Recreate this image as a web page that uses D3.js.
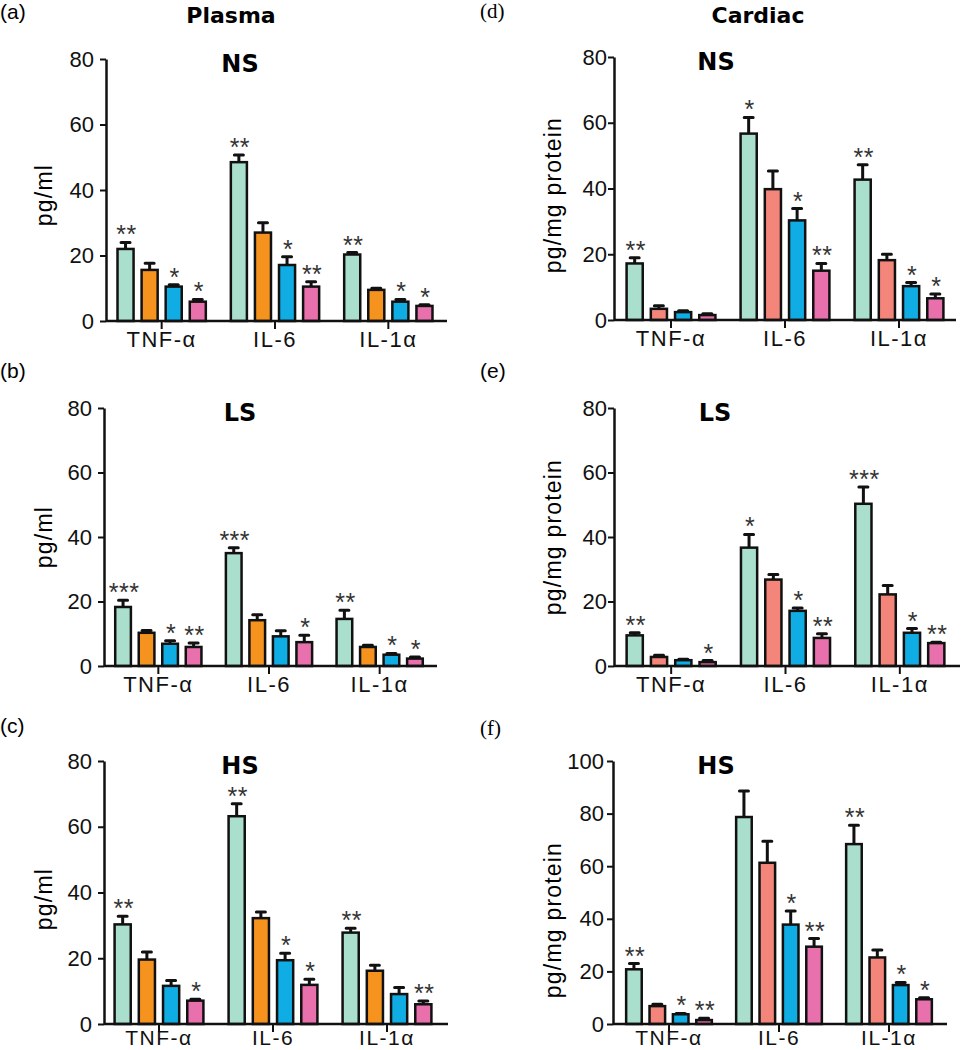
<!DOCTYPE html>
<html>
<head>
<meta charset="utf-8">
<script src="https://cdn.jsdelivr.net/npm/d3@7"></script>
<style>
  body { margin: 0; background: #fff; }
  svg { display: block; }
</style>
</head>
<body>
<div id="chart"></div>
<script>
// cytokine groups on the x axis
const categories = ['TNF-α', 'IL-6', 'IL-1α']

// (a) plasma NS
const plasmaNS = [[22, 15.6, 10.5, 5.9], [48.5, 27, 17.1, 10.5], [20.3, 9.5, 5.9, 4.6]]
const plasmaNSErr = [[2, 2, 0.6, 0.7], [2.2, 3, 2.5, 1.5], [0.6, 0.5, 0.7, 0.4]]
const plasmaNSSig = [['**', '', '*', '*'], ['**', '', '*', '**'], ['**', '', '*', '*']]

// (b) plasma LS
const plasmaLS = [[18.3, 10.3, 6.9, 5.9], [35, 14.2, 9.2, 7.4], [14.6, 5.9, 3.5, 2.3]]
const plasmaLSErr = [[2.1, 0.7, 0.9, 1.2], [1.7, 1.7, 1.7, 2.1], [2.7, 0.5, 0.4, 0.5]]
const plasmaLSSig = [['***', '', '*', '**'], ['***', '', '', '*'], ['**', '', '*', '*']]

// (c) plasma HS
const plasmaHS = [[30.3, 19.6, 11.6, 7.1], [63.2, 32.2, 19.4, 11.9], [27.8, 16.2, 9.1, 6]]
const plasmaHSErr = [[2.5, 2.3, 1.6, 0.4], [3.8, 1.9, 2.1, 1.7], [1.3, 1.7, 2, 1]]
const plasmaHSSig = [['**', '', '', '*'], ['**', '', '*', '*'], ['**', '', '', '**']]

// (d) cardiac NS
const cardiacNS = [[17.2, 3.4, 2.4, 1.5], [56.7, 39.8, 30.3, 15], [42.7, 18.2, 10.3, 6.6]]
const cardiacNSErr = [[1.7, 0.9, 0.4, 0.4], [4.9, 5.5, 3.6, 2.2], [4.5, 1.8, 1.1, 1.3]]
const cardiacNSSig = [['**', '', '', ''], ['*', '', '*', '**'], ['**', '', '*', '*']]

// (e) cardiac LS
const cardiacLS = [[9.5, 2.8, 1.8, 1.2], [36.7, 26.8, 17.1, 8.7], [50.3, 22.2, 10.3, 7.1]]
const cardiacLSErr = [[0.8, 0.5, 0.3, 0.5], [4.1, 1.6, 0.9, 1.3], [5.2, 2.8, 1.3, 0.3]]
const cardiacLSSig = [['**', '', '', '*'], ['*', '', '*', '**'], ['***', '', '*', '**']]

// (f) cardiac HS
const cardiacHS = [[20.8, 6.8, 3.7, 1.5], [78.7, 61.3, 37.8, 29.4], [68.4, 25.3, 14.8, 9.4]]
const cardiacHSErr = [[2.2, 0.7, 0.3, 0.7], [9.9, 8.2, 5.2, 3.1], [7.2, 2.8, 1, 0.6]]
const cardiacHSSig = [['**', '', '*', '**'], ['', '', '*', '**'], ['**', '', '*', '*']]

const ticks80 = [0, 20, 40, 60, 80]
const ticks100 = [0, 20, 40, 60, 80, 100]

const plasmaColors = ['#aadfce', '#f6921e', '#10ade4', '#e870ac']
const cardiacColors = ['#aadfce', '#f4857b', '#10ade4', '#e870ac']

const W = 961, H = 1050
const svg = d3.select('#chart').append('svg').attr('width', W).attr('height', H)

const sans = 'Liberation Sans, Arial, Helvetica, sans-serif'
const heavy = 'DejaVu Sans, Verdana, sans-serif'

// column titles
svg.append('text').attr('x', 231).attr('y', 23).attr('text-anchor', 'middle')
  .style('font-family', heavy).style('font-weight', 'bold').style('font-size', '22px').text('Plasma')
svg.append('text').attr('x', 758).attr('y', 23).attr('text-anchor', 'middle')
  .style('font-family', heavy).style('font-weight', 'bold').style('font-size', '22px').text('Cardiac')

const panels = [
  { tag: '(a)', serif: false, lx: 0, ly: 19, title: 'NS', vals: plasmaNS, err: plasmaNSErr, sig: plasmaNSSig,
    colors: plasmaColors, ymax: 80, ticks: ticks80, ax: 106, band: [105, 445], end: 447, top: 59, bottom: 321,
    ylab: 'pg/ml', ylx: 52, yly: 195, tx: 240, pad: 6, xpad: 2, xdy: '0.71em', xfs: 22 },
  { tag: '(b)', serif: false, lx: 0, ly: 378, title: 'LS', vals: plasmaLS, err: plasmaLSErr, sig: plasmaLSSig,
    colors: plasmaColors, ymax: 80, ticks: ticks80, ax: 104, band: [103, 435], end: 437, top: 408, bottom: 666,
    ylab: 'pg/ml', ylx: 52, yly: 537, tx: 240, pad: 6, xpad: 2, xdy: '0.71em', xfs: 22 },
  { tag: '(c)', serif: false, lx: 0, ly: 733, title: 'HS', vals: plasmaHS, err: plasmaHSErr, sig: plasmaHSSig,
    colors: plasmaColors, ymax: 80, ticks: ticks80, ax: 104, band: [102, 444], end: 448, top: 761, bottom: 1024,
    ylab: 'pg/ml', ylx: 52, yly: 899, tx: 240, pad: 6, xpad: 0, xdy: '0.6em', xfs: 21 },
  { tag: '(d)', serif: true, lx: 480, ly: 18, title: 'NS', vals: cardiacNS, err: cardiacNSErr, sig: cardiacNSSig,
    colors: cardiacColors, ymax: 80, ticks: ticks80, ax: 614, band: [614, 956], end: 956, top: 57, bottom: 320,
    ylab: 'pg/mg protein', ylx: 561, yly: 195, tx: 716, pad: 1, xpad: 2, xdy: '0.71em', xfs: 22 },
  { tag: '(e)', serif: false, lx: 480, ly: 378, title: 'LS', vals: cardiacLS, err: cardiacLSErr, sig: cardiacLSSig,
    colors: cardiacColors, ymax: 80, ticks: ticks80, ax: 614, band: [614, 957], end: 960, top: 408, bottom: 666,
    ylab: 'pg/mg protein', ylx: 561, yly: 537, tx: 715, pad: 1, xpad: 2, xdy: '0.71em', xfs: 22 },
  { tag: '(f)', serif: true, lx: 480, ly: 735, title: 'HS', vals: cardiacHS, err: cardiacHSErr, sig: cardiacHSSig,
    colors: cardiacColors, ymax: 100, ticks: ticks100, ax: 613, band: [614, 944], end: 947, top: 761, bottom: 1024,
    ylab: 'pg/mg protein', ylx: 561, yly: 920, tx: 716, pad: 3, xpad: 0, xdy: '0.6em', xfs: 21 }
]

panels.forEach(p => {
  const g = svg.append('g')

  // panel letter
  g.append('text').attr('x', p.lx).attr('y', p.ly)
    .style('font-family', p.serif ? 'Liberation Serif, Times New Roman, serif' : sans)
    .style('font-size', '21px').text(p.tag)

  // condition title
  g.append('text').attr('x', p.tx).attr('y', p.top + 13).attr('text-anchor', 'middle')
    .style('font-family', heavy).style('font-weight', 'bold').style('font-size', '24px').text(p.title)

  const y = d3.scaleLinear().domain([0, p.ymax]).range([p.bottom, p.top])
  const x0 = d3.scaleBand().domain(categories).range(p.band).paddingInner(0.15).paddingOuter(0.075)
  const x1 = d3.scaleBand().domain([0, 1, 2, 3]).range([0, x0.bandwidth()]).paddingInner(1 / 3).paddingOuter(1 / 6)

  // y label
  g.append('text')
    .attr('transform', `translate(${p.ylx},${p.yly}) rotate(-90)`)
    .attr('text-anchor', 'middle')
    .style('font-family', sans).style('font-size', '23px').style('letter-spacing', '1.2px')
    .text(p.ylab)

  // bars, error bars, stars
  const rows = []
  categories.forEach((c, i) => {
    p.vals[i].forEach((v, j) => rows.push({ c, j, v, e: p.err[i][j], s: p.sig[i][j] }))
  })

  const bx = d => x0(d.c) + x1(d.j)
  const bw = x1.bandwidth()

  g.selectAll('.err').data(rows).join('path')
    .attr('d', d => {
      const cx = bx(d) + bw / 2, yt = y(d.v + d.e)
      return `M${cx},${y(d.v)}V${yt}M${cx - 4.5},${yt}H${cx + 4.5}`
    })
    .attr('stroke', '#111').attr('stroke-width', 3).attr('stroke-linecap', 'round').attr('fill', 'none')

  g.selectAll('.bar').data(rows).join('rect')
    .attr('x', bx).attr('width', bw)
    .attr('y', d => y(d.v)).attr('height', d => y(0) - y(d.v))
    .attr('fill', d => p.colors[d.j]).attr('stroke', '#111').attr('stroke-width', 2.5)

  g.selectAll('.sig').data(rows.filter(d => d.s)).join('text')
    .attr('x', d => bx(d) + bw / 2 + 1).attr('y', d => y(d.v + d.e) + 1)
    .attr('text-anchor', 'middle')
    .style('font-family', sans).style('font-size', '25px').style('letter-spacing', '0.5px')
    .style('fill', '#333')
    .text(d => d.s)

  // y axis
  const ya = g.append('g').attr('transform', `translate(${p.ax},0)`)
    .call(d3.axisLeft(y).tickValues(p.ticks).tickSize(6).tickPadding(p.pad).tickSizeOuter(0))
  ya.select('.domain').attr('stroke', '#111').attr('stroke-width', 2.5)
  ya.selectAll('.tick line').attr('stroke', '#111').attr('stroke-width', 2)
  ya.selectAll('.tick text').style('font-family', sans).style('font-size', '22px').attr('fill', '#111')

  // x axis
  const xa = g.append('g').attr('transform', `translate(0,${p.bottom})`)
    .call(d3.axisBottom(x0).tickSize(8).tickPadding(p.xpad).tickSizeOuter(0))
  xa.select('.domain').remove()
  xa.selectAll('.tick line').attr('stroke', '#111').attr('stroke-width', 2)
  xa.selectAll('.tick text').style('font-family', sans).style('font-size', p.xfs + 'px')
    .style('letter-spacing', '1.5px').attr('fill', '#111').attr('dy', p.xdy)
  g.append('line').attr('x1', p.ax).attr('x2', p.end).attr('y1', p.bottom).attr('y2', p.bottom)
    .attr('stroke', '#111').attr('stroke-width', 2.5)
})
</script>
</body>
</html>
